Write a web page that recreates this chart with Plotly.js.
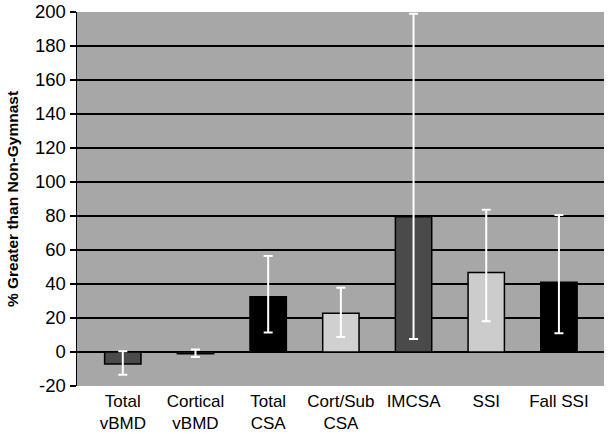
<!DOCTYPE html>
<html>
<head>
<meta charset="utf-8">
<script src="https://cdn.plot.ly/plotly-3.0.1.min.js"></script>
<style>html,body{margin:0;padding:0;background:#fff;}#chart{width:612px;height:434px;}</style>
</head>
<body>
<div id="chart"></div>
<script>
var categories = ["Total<br>vBMD", "Cortical<br>vBMD", "Total<br>CSA", "Cort/Sub<br>CSA", "IMCSA", "SSI", "Fall SSI"];
var values = [-7.1, -1, 32.5, 22.8, 79.5, 46.7, 41];
var errPlus = [7.5, 2.5, 24, 15, 119.5, 37, 39.6];
var errMinus = [6.3, 2, 21, 14, 71.8, 28.6, 30];
var barColors = ["#4a4a4a", "#4a4a4a", "#000000", "#d0d0d0", "#4a4a4a", "#cccccc", "#000000"];
var yTicks = [-20, 0, 20, 40, 60, 80, 100, 120, 140, 160, 180, 200];

var trace = {
  type: "bar",
  x: categories,
  y: values,
  marker: {color: barColors, line: {color: "#000000", width: 1.5}},
  error_y: {type: "data", symmetric: false, array: errPlus, arrayminus: errMinus,
            color: "#ffffff", thickness: 2, width: 4.5},
  hoverinfo: "none"
};

var layout = {
  width: 612, height: 434,
  margin: {l: 77, r: 8, t: 12, b: 48},
  paper_bgcolor: "#ffffff",
  plot_bgcolor: "#a7a7a7",
  bargap: 0.5,
  showlegend: false,
  font: {family: "Liberation Sans, Arial, sans-serif", color: "#000000"},
  xaxis: {
    type: "category",
    range: [-0.63, 6.62],
    showline: false, showgrid: false, zeroline: false,
    ticks: "",
    ticklabelstandoff: 3,
    tickfont: {size: 17, color: "#000000"}
  },
  yaxis: {
    range: [-20, 200],
    tickvals: yTicks,
    ticktext: yTicks.map(String),
    showline: true, linecolor: "#000000", linewidth: 1.5,
    ticks: "outside", ticklen: 6, tickcolor: "#000000", tickwidth: 1.5,
    showgrid: true, gridcolor: "#000000", gridwidth: 1.5,
    zeroline: true, zerolinecolor: "#000000", zerolinewidth: 1.5,
    tickfont: {size: 18.5, color: "#000000"},
    title: {text: "% Greater than Non-Gymnast", font: {size: 15.5, color: "#000000", family: "Liberation Sans, Arial, sans-serif", weight: "bold"}, standoff: 12}
  }
};

Plotly.newPlot("chart", [trace], layout, {staticPlot: true, displayModeBar: false});
</script>
</body>
</html>
